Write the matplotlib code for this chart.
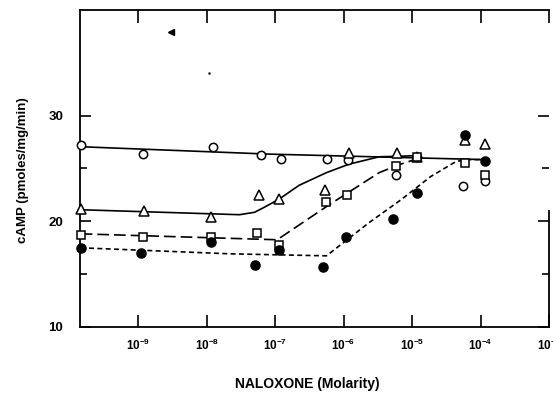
import numpy as np
import matplotlib.pyplot as plt

plt.rcParams['font.family'] = ['Liberation Sans', 'DejaVu Sans']
plt.rcParams['font.weight'] = 'bold'
plt.rcParams['mathtext.fontset'] = 'custom'
plt.rcParams['mathtext.rm'] = 'Liberation Sans:bold'
plt.rcParams['mathtext.bf'] = 'Liberation Sans:bold'
plt.rcParams['mathtext.default'] = 'bf'

# control (no naloxone) sits on the y axis
x_ctrl = -9.84

# log10 molarity; first value of each series is the control
open_circ_x = [x_ctrl, -8.93, -7.91, -7.21, -6.92, -6.24, -5.93, -5.24, -4.93, -4.25, -3.94]
open_circ_y = [27.25, 26.4, 27.06, 26.3, 25.9, 25.9, 25.8, 24.4, 26.1, 23.3, 23.8]

tri_x = [x_ctrl, -8.91, -7.94, -7.24, -6.95, -6.27, -5.92, -5.22, -4.93, -4.22, -3.93]
tri_y = [21.2, 21.0, 20.4, 22.5, 22.1, 23.0, 26.5, 26.5, 26.1, 27.7, 27.3]

sq_x = [x_ctrl, -8.93, -7.94, -7.26, -6.95, -6.25, -5.95, -5.24, -4.93, -4.22, -3.94]
sq_y = [18.7, 18.5, 18.5, 18.9, 17.8, 21.8, 22.5, 25.2, 26.1, 25.5, 24.4]

fill_circ_x = [x_ctrl, -8.96, -7.94, -7.30, -6.95, -6.30, -5.96, -5.28, -4.93, -4.22, -3.94]
fill_circ_y = [17.5, 17.0, 18.0, 15.9, 17.3, 15.7, 18.5, 20.2, 22.7, 28.2, 25.7]

# hand-drawn curves
fit_open_x = [x_ctrl, -7.08, -3.94]
fit_open_y = [27.05, 26.35, 25.83]

fit_tri_x = [x_ctrl, -8.90, -7.52, -7.30, -7.15, -6.94, -6.65, -6.25, -5.92, -5.48, -4.93]
fit_tri_y = [21.09, 20.9, 20.62, 20.85, 21.35, 22.1, 23.4, 24.6, 25.4, 26.1, 26.2]

fit_sq_x = [x_ctrl, -7.94, -6.97, -6.21, -5.48, -5.19, -4.93]
fit_sq_y = [18.81, 18.44, 18.25, 21.56, 24.6, 25.35, 25.9]

fit_fill_x = [x_ctrl, -7.66, -6.25, -5.63, -5.16, -4.73, -4.36, -4.22, -3.94]
fit_fill_y = [17.49, 16.92, 16.73, 19.86, 22.04, 24.22, 25.64, 25.83, 25.83]

decades = [-9, -8, -7, -6, -5, -4, -3]

fig = plt.figure(figsize=(5.53, 3.93), dpi=100)
ax = fig.add_axes([0.1447, 0.168, 0.848, 0.807])

def px(v):
    return 10.0 ** np.array(v)

lw = 1.2
ax.plot(px(fit_open_x), fit_open_y, color='black', lw=lw, clip_on=False)
ax.plot(px(fit_tri_x), fit_tri_y, color='black', lw=lw, clip_on=False)
ax.plot(px(fit_sq_x), fit_sq_y, color='black', lw=lw, dashes=(7, 3), clip_on=False)
ax.plot(px(fit_fill_x), fit_fill_y, color='black', lw=lw, dashes=(3, 2), clip_on=False)

mk = dict(linestyle='none', markeredgecolor='black', markeredgewidth=1.1, clip_on=False, zorder=3)
ax.plot(px(open_circ_x), open_circ_y, marker='o', ms=6, markerfacecolor='white', **mk)
ax.plot(px(tri_x), tri_y, marker='^', ms=6.5, markerfacecolor='white', **mk)
ax.plot(px(sq_x), sq_y, marker='s', ms=5.5, markerfacecolor='white', **mk)
ax.plot(px(fill_circ_x), fill_circ_y, marker='o', ms=6.5, markerfacecolor='black', **mk)

# stray marks on the scanned page
ax.plot(px([-8.52]), [37.9], marker='<', ms=4, color='black', linestyle='none')
ax.plot(px([-7.97]), [34.0], marker='.', ms=1.5, color='black', linestyle='none')

ax.set_xscale('log')
ax.set_xlim(10 ** -9.85, 1e-3)
ax.set_ylim(10, 40)

ax.set_xticks(px(decades))
ax.set_xticklabels([r'$10^{%d}$' % d for d in decades], fontsize=8.5)
ax.xaxis.set_minor_locator(plt.NullLocator())
ax.set_yticks([10, 20, 30])
ax.set_yticks([15, 25], minor=True)
ax.set_yticklabels(['10', '20', '30'], fontsize=9.5, fontweight='bold')

ax.tick_params(axis='x', which='major', direction='in', length=9, width=1.2,
               top=True, pad=8)
ax.tick_params(axis='y', which='major', direction='in', length=8, width=1.2,
               right=True, pad=12)
ax.tick_params(axis='y', which='minor', direction='in', length=5, width=1.2,
               right=True)

for s in ax.spines.values():
    s.set_linewidth(1.3)
ax.spines['right'].set_bounds(10, 21)

ax.set_ylabel('cAMP (pmoles/mg/min)', fontsize=9.5, fontweight='bold')
ax.set_xlabel('NALOXONE (Molarity)', fontsize=10, fontweight='bold')
ax.yaxis.set_label_coords(-0.109, 0.495)
ax.xaxis.set_label_coords(0.485, -0.158)

fig.savefig('out.png', dpi=100)
